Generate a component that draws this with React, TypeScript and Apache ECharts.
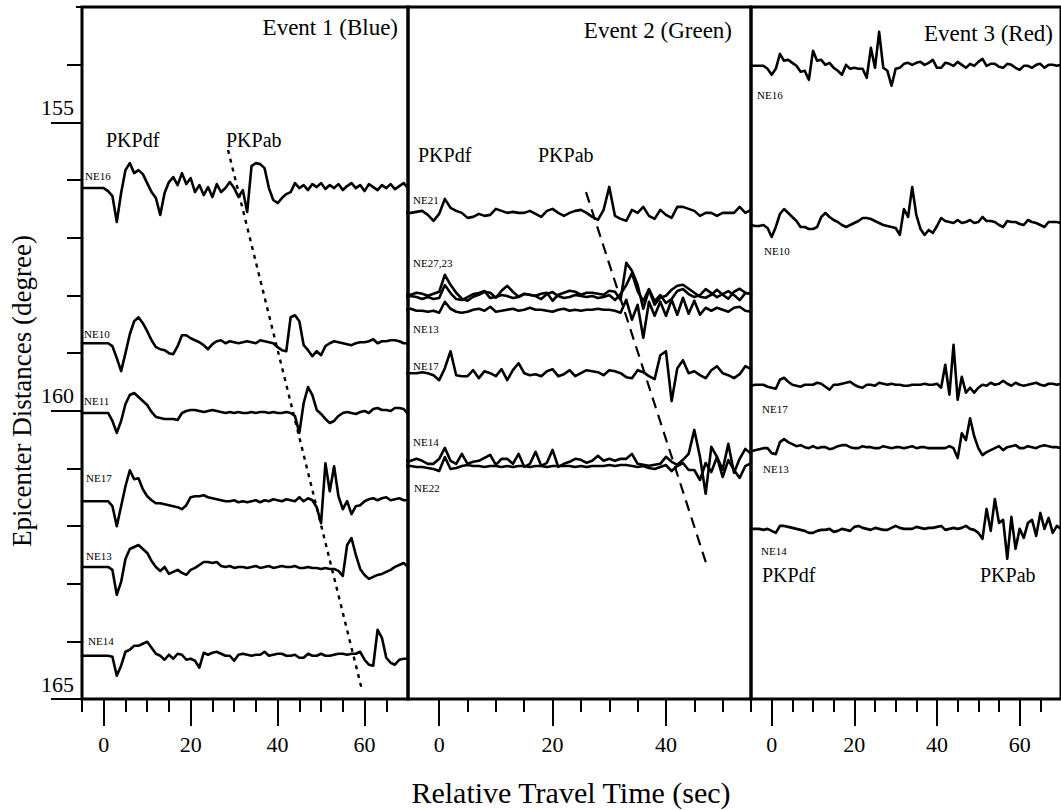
import React, { useEffect, useRef } from "react";
import * as echarts from "echarts";

const FONT = "'Liberation Serif', 'Times New Roman', serif";

// ---- sampling: 1-second samples starting at these times (sec) ----
const P1_T0 = -5;
const P2_T0 = -6;
const P3_T0 = -5;

// amplitude unit -> degrees of epicentral distance on the plot
const AMP_SCALE = 0.0173;

// ---- axes ----
const Y_MIN = 153;
const Y_MAX = 165;
const Y_MAJOR = [155, 160, 165];
const Y_MINOR = [154, 156, 157, 158, 159, 161, 162, 163, 164];
const Y_TOP = [153];
const X_MAJOR_13 = [0, 20, 40, 60];
const X_MAJOR_2 = [0, 20, 40];
const X_MINOR_1 = [-5, 0, 5, 10, 15, 20, 25, 30, 35, 40, 45, 50, 55, 60, 65];
const X_MINOR_2 = [0, 5, 10, 15, 20, 25, 30, 35, 40, 45, 50, 55];
const X_MINOR_3 = [-5, 0, 5, 10, 15, 20, 25, 30, 35, 40, 45, 50, 55, 60, 65];

// ---- Event 1 (Blue) ----
const P1_STATIONS = ["NE16", "NE10", "NE11", "NE17", "NE13", "NE14"];
const P1_DISTANCES = [156.14, 158.83, 160.04, 161.57, 162.71, 164.25];
const P1_NE16 = [
  0, 0, 0, 0, 0, 0,
  -3, -8, -34, -5, 18, 25, 15, 18, 14, 5,
  -4, -10, -27, -5, 6, 11, 3, 15, 4, 10,
  -4, 3, -7, 1, -9, 4, -4, 0, 6, 0,
  -9, -2, -24, 22, 25, 24, 20, 0, -12, -15,
  -10, -6, -4, 5, 0, 3, -2, 4, 1, 5,
  -1, 3, 0, 4, -2, 2, 5, 0, 3, -3,
  4, 1, -2, 3, 0, 4, -1, 2, 5, 0,
];
const P1_NE10 = [
  0, 0, 0, 0, 0, 0, 0,
  -3, -15, -28, -10, 9, 22, 26, 20, 12, 3,
  -4, -6, -7, -10, -11, -3, 8, 8, 5, 3,
  1, -2, -6, -1, 2, 3, 0, 2, 1, 0,
  1, 2, 1, 0, 3, 2, 1, 0, -4, -7,
  -8, 26, 28, 22, -2, -7, -13, -8, -12, -3,
  0, 2, 1, 0, -1, -2, 0, 1, 1, 2,
  4, 0, 2, 2, 3, 3, 2, 0, 0,
];
const P1_NE11 = [
  0, 0, 0, 0, 0, 0, 0,
  -8, -20, -8, 9, 18, 20, 16, 12, 8, 1,
  -4, -5, -6, -6, -6, -7, 0, 2, 3, 3,
  2, 1, 2, 3, 2, 1, 0, 1, 0, 1,
  0, 0, 1, 0, 1, 1, 0, 1, 0, 0,
  1, 0, -3, -20, 10, 26, 18, 3, -1, -6,
  -10, -8, -3, 0, 1, 0, -1, 1, 2, 0,
  4, 5, 3, 3, 2, 5, 5, 4, -1,
];
const P1_NE17 = [
  0, 0, 0, 0, 0, 0, 0,
  -5, -25, -5, 15, 31, 22, 23, 12, 5, 1,
  -2, -2, -3, -4, -5, -6, -8, -4, 4, 5,
  5, 6, 4, 3, 2, 1, 0, 0, 1, -1,
  0, -1, 0, 1, -1, 1, 0, 2, 1, 0,
  2, 1, 0, 4, 0, 3, 1, -6, -22, 38,
  10, 35, 5, -8, 0, -13, -5, -4, 0, 2,
  3, 1, 3, 4, 1, 2, 3, 1, 1,
];
const P1_NE13 = [
  0, 0, 0, 0, 0, 0, 0,
  -3, -28, -15, 8, 18, 20, 22, 18, 14, 6,
  0, -4, 0, -7, -5, -3, -6, -8, -3, -1,
  2, 5, 5, 4, 5, 1, 0, 1, -1, 0,
  0, -1, 0, 1, -1, 0, 1, -1, 0, 1,
  0, 0, 1, -1, -1, 0, -1, -1, -2, -1,
  -2, -2, -4, -9, 22, 29, 12, -2, -8, -12,
  -10, -8, -7, -5, -3, 0, 2, 4, 0,
];
const P1_NE14 = [
  0, 0, 0, 0, 0, 0, 0,
  -1, -20, -10, 4, 6, 10, 10, 12, 14, 8,
  2, 0, -4, 1, -3, 2, 1, -4, -3, -5,
  -12, 3, 1, 3, 4, 2, 0, 0, -5, 1,
  2, 1, 0, 1, 1, 4, 0, 1, 2, 2,
  0, 0, 1, -2, -2, 2, 0, 0, 2, 0,
  0, 1, 2, 2, 1, 2, 2, 4, -4, -9,
  -10, 26, 18, -2, -7, -9, -4, -3, -3,
];
const P1_TRACES = [P1_NE16, P1_NE10, P1_NE11, P1_NE17, P1_NE13, P1_NE14];
const P1_MOVEOUT = [
  [28.6, 155.48],
  [59.4, 164.84],
];

// ---- Event 2 (Green) ----
const P2_STATIONS = ["NE21", "NE27", "NE23", "NE13", "NE17", "NE14", "NE22"];
const P2_DISTANCES = [156.57, 157.99, 158.03, 158.25, 159.35, 160.87, 160.96];
const P2_NE21 = [
  0, 0, 1, 2, -2, -8,
  -1, 14, 5, 2, 0, -5, -4, -1, -3, -2,
  4, 2, 0, 1, 0, 0, 2, -1, -4, 2,
  4, 0, -3, 0, 2, 3, 0, -4, -7, 3,
  26, -3, -6, -8, 3, 0, 6, -3, -6, 3,
  -2, -5, 6, 6, 4, 2, -3, 0, 0, -3,
  0, 0, 0, 6, 0, 3,
];
const P2_NE27 = [
  0, 0, 2, 1, -1, 1,
  3, 20, 10, 2, -4, -6, -2, 0, 3, 2,
  -3, 4, 9, 3, -2, 1, 0, -1, 1, 2,
  -6, 0, 2, 4, 3, 0, 2, 2, 1, 0,
  4, 3, -5, 32, 24, 10, -14, 5, -10, -3,
  -1, 5, 9, 10, 6, 2, -2, -3, 0, 5,
  0, -4, 3, 6, 2, 1,
];
const P2_NE23 = [
  0, 1, 0, -2, 0, -2,
  -1, 12, 4, -2, -3, 0, 3, 4, 6, -1,
  0, 2, 1, -1, 0, 3, 2, 1, -2, 3,
  5, 1, -1, 0, 2, 1, 0, 1, -1, 0,
  2, -3, 3, 12, 24, 6, -4, 8, -4, 2,
  -6, -2, 6, 8, 3, 0, 2, 8, 4, 0,
  3, 6, 2, -3, 4, 3,
];
const P2_NE13 = [
  0, 1, -1, -1, -2, -1,
  -3, 8, 1, -2, -3, -2, 0, 1, -1, 3,
  -2, -1, 0, 1, -1, 0, 2, 0, 0, -1,
  -2, 0, 1, -1, 0, -1, 0, 0, 1, 0,
  0, -1, -3, 10, -10, 5, -28, 8, -6, 8,
  -6, 10, -5, 12, -4, 9, -5, 2, -1, 2,
  0, -2, 2, 3, -1, -2,
];
const P2_NE17 = [
  0, 0, 0, 1, 0, -2,
  -7, 5, 22, -2, -3, -3, 3, -5, 2, 0,
  -3, 4, -7, 3, 10, 0, -2, -1, -3, 2,
  4, -3, -1, 3, -3, 0, 3, 2, 1, -2,
  3, 2, 0, -4, -5, 3, 1, -3, -6, 18,
  22, -28, 5, 13, 0, 2, -2, -5, 3, 7,
  0, -2, -5, -1, 7, 4,
];
const P2_NE14 = [
  0, 0, 2, 0, -3, -3,
  2, 13, 0, -3, 7, -3, -1, 0, 3, 6,
  -4, 2, 2, -3, 7, -6, -3, 9, -5, -2,
  11, -6, -3, -1, 2, 1, -2, 0, 5, 0,
  2, 0, 2, 2, 7, -3, -4, -5, -4, -3,
  4, -1, -4, 1, 7, 31, 4, -33, 14, 4,
  -9, 17, -12, 2, 12, 7,
];
const P2_NE22 = [
  0, 0, -1, -1, -2, -3,
  -5, 9, -3, -2, 0, 1, 0, 0, -1, 0,
  0, -1, 0, -1, 0, 0, -1, 0, 0, -1,
  0, 0, 0, 0, -1, 0, -1, 0, 0, 0,
  1, 0, 1, 1, 0, -1, 0, -2, -3, -1,
  1, -5, 0, 3, -4, -4, -14, 3, -6, 9,
  -11, 6, -4, -12, 0, 3,
];
const P2_TRACES = [P2_NE21, P2_NE27, P2_NE23, P2_NE13, P2_NE17, P2_NE14, P2_NE22];
const P2_MOVEOUT = [
  [25.9, 156.21],
  [47.2, 162.68],
];

// ---- Event 3 (Red) ----
const P3_STATIONS = ["NE16", "NE10", "NE17", "NE13", "NE14"];
const P3_DISTANCES = [154.02, 156.78, 159.55, 160.65, 162.05];
const P3_NE16 = [
  0, 0, 0, 0, -3, -9,
  -3, 12, 5, 6, 3, 0, -6, -5, -14, 15,
  5, 6, 1, 3, -2, -5, -9, 1, -3, -2,
  -3, -3, -12, 18, -2, 34, -2, -5, -20, -3,
  -2, 2, 3, 1, 3, 4, 1, 3, 6, -2,
  -2, 3, 2, 0, 4, 1, -2, 2, 0, 4,
  7, 0, 2, 2, -1, -2, 2, 1, -2, -4,
  0, 0, -2, 1, 2, -2, 1, 1, 0, 1,
];
const P3_NE10 = [
  0, -1, -1, 0, -3, -12,
  -2, 11, 16, 12, 8, 4, -2, -2, -4, -4,
  -2, 8, 12, 8, 5, 3, 0, -2, 0, 2,
  4, 7, 7, 6, 4, 2, 0, -1, -2, -3,
  -10, 16, 8, 38, 10, -4, -10, -5, -8, -1,
  7, 4, 3, 2, 5, 2, 3, 5, 2, 3,
  8, 4, 4, 3, 0, -2, 4, 3, 3, 1,
  0, 5, 3, 2, 0, -2, 3, 3, 3, 2,
];
const P3_NE17 = [
  -1, 0, 0, 0, -2, -3,
  -4, 5, 7, 3, 0, -1, -2, 0, 0, 0,
  2, 1, -2, -5, 0, 0, 1, 2, 3, 0,
  -2, -3, 0, 0, -1, 2, 1, 0, 1, 0,
  0, -1, -1, 0, 0, 0, 1, 0, 0, 1,
  -3, 20, -10, 40, -15, 8, -8, -3, -8, -3,
  0, -1, 2, 0, 1, 4, 1, -1, 2, 0,
  -1, 0, 1, 2, 0, -1, 1, 1, 0, 1,
];
const P3_NE13 = [
  -3, -2, -1, 0, 0, -5,
  -6, 6, 9, 6, 4, 2, 3, 1, 0, 2,
  0, 1, 1, -1, 0, 2, 3, 3, 1, 0,
  0, 2, 1, 1, 0, 0, 2, 1, 0, 1,
  1, 0, 1, 2, 0, 1, 1, 0, 0, 0,
  0, 0, 2, 0, -10, 15, 8, 30, 12, 0,
  -7, -4, -2, 0, 2, -2, 1, 2, 3, 0,
  0, 2, 1, 0, 2, 3, 2, 1, 1, 0,
];
const P3_NE14 = [
  0, 0, 0, -1, 0, -2,
  -4, 3, 3, 2, 1, 0, -1, -2, -4, -4,
  -2, -1, -1, 0, -3, -2, 0, -1, -2, 2,
  3, 1, 0, -1, 1, 0, -1, -1, 1, 3,
  1, 0, 0, 0, 2, 1, 0, 1, 1, 2,
  3, -1, 0, 1, 0, 1, 3, 0, -1, -4,
  -10, 20, -2, 30, 6, 9, -30, 12, -20, 0,
  -9, 6, 9, -7, 16, 0, 11, -4, 3, 0,
];
const P3_TRACES = [P3_NE16, P3_NE10, P3_NE17, P3_NE13, P3_NE14];

function traceData(t0: number, amps: number[], dist: number) {
  return amps.map((a, i) => [t0 + i, +(dist - a * AMP_SCALE).toFixed(4)]);
}

const TRACE_STYLE = { color: "#000", width: 2.6, join: "round", cap: "round" };

function traceSeries(
  event: string,
  stations: string[],
  dists: number[],
  traces: number[][],
  t0: number,
  xAxisIndex: number,
  yAxisIndex: number
) {
  return traces.map((amps, k) => ({
    name: `${event} ${stations[k]}`,
    type: "line",
    xAxisIndex,
    yAxisIndex,
    data: traceData(t0, amps, dists[k]),
    showSymbol: false,
    symbol: "none",
    silent: true,
    lineStyle: TRACE_STYLE,
    z: 3,
  }));
}

const NO_LINE = { show: false, onZero: false };

function xAxes(gridIndex: number, min: number, max: number, minor: number[], major: number[]) {
  const tickStyle = { color: "#000", width: 2 };
  return [
    {
      type: "value",
      gridIndex,
      min,
      max,
      position: "bottom",
      axisLine: NO_LINE,
      splitLine: { show: false },
      axisTick: { show: true, customValues: minor, length: 13, lineStyle: tickStyle },
      axisLabel: { show: false },
    },
    {
      type: "value",
      gridIndex,
      min,
      max,
      position: "bottom",
      axisLine: NO_LINE,
      splitLine: { show: false },
      axisTick: { show: true, customValues: major, length: 27, lineStyle: tickStyle },
      axisLabel: {
        show: true,
        customValues: major,
        margin: 34,
        fontSize: 22,
        fontFamily: FONT,
        color: "#000",
      },
    },
  ];
}

function hiddenY(gridIndex: number) {
  return {
    type: "value",
    gridIndex,
    min: Y_MIN,
    max: Y_MAX,
    inverse: true,
    show: false,
    axisLine: NO_LINE,
    splitLine: { show: false },
  };
}

function text(
  t: string,
  x: number,
  y: number,
  size: number,
  align: string = "left",
  rotation: number = 0
) {
  return {
    type: "text",
    x,
    y,
    rotation,
    silent: true,
    style: {
      text: t,
      fontSize: size,
      fontFamily: FONT,
      fill: "#000",
      align,
      verticalAlign: "middle",
    },
  };
}

export default function App() {
  const ref = useRef<HTMLDivElement>(null);

  useEffect(() => {
    if (!ref.current) return;
    const chart = echarts.init(ref.current, null, { renderer: "svg" });
    const tickStyle = { color: "#000", width: 2 };
    const gridBase = {
      top: 7,
      height: 692,
      show: true,
      borderColor: "#000",
      borderWidth: 3,
      backgroundColor: "transparent",
    };

    const stationLabel = 11;
    const graphics = [
      text("Epicenter Distances (degree)", 22, 391, 27, "center", Math.PI / 2),
      text("Relative Travel Time (sec)", 571, 792, 30, "center"),
      text("Event 1 (Blue)", 398, 27, 23, "right"),
      text("Event 2 (Green)", 732, 30, 23, "right"),
      text("Event 3 (Red)", 1053, 33, 23, "right"),
      text("PKPdf", 106, 140, 20),
      text("PKPab", 226, 140, 20),
      text("PKPdf", 418, 155, 20),
      text("PKPab", 538, 155, 20),
      text("PKPdf", 762, 575, 20),
      text("PKPab", 980, 575, 20),
      // station labels, Event 1
      text("NE16", 85, 176, stationLabel),
      text("NE10", 84, 334, stationLabel),
      text("NE11", 84, 401, stationLabel),
      text("NE17", 86, 478, stationLabel),
      text("NE13", 86, 556, stationLabel),
      text("NE14", 88, 641, stationLabel),
      // Event 2
      text("NE21", 413, 200, stationLabel),
      text("NE27,23", 413, 263, stationLabel),
      text("NE13", 413, 329, stationLabel),
      text("NE17", 413, 366, stationLabel),
      text("NE14", 413, 442, stationLabel),
      text("NE22", 414, 488, stationLabel),
      // Event 3
      text("NE16", 757, 95, stationLabel),
      text("NE10", 764, 251, stationLabel),
      text("NE17", 762, 409, stationLabel),
      text("NE13", 763, 469, stationLabel),
      text("NE14", 761, 551, stationLabel),
    ];

    const option: any = {
      animation: false,
      backgroundColor: "#fff",
      grid: [
        { ...gridBase, left: 82, width: 326 },
        { ...gridBase, left: 408, width: 343 },
        { ...gridBase, left: 751, width: 314.3 },
      ],
      xAxis: [
        ...xAxes(0, -5, 70, X_MINOR_1, X_MAJOR_13),
        ...xAxes(1, -5.5, 55, X_MINOR_2, X_MAJOR_2),
        ...xAxes(2, -5, 70, X_MINOR_3, X_MAJOR_13),
      ],
      yAxis: [
        {
          type: "value",
          gridIndex: 0,
          min: Y_MIN,
          max: Y_MAX,
          inverse: true,
          position: "left",
          axisLine: NO_LINE,
          splitLine: { show: false },
          axisTick: { show: true, customValues: Y_MINOR, length: 15, lineStyle: tickStyle },
          axisLabel: { show: false },
        },
        {
          type: "value",
          gridIndex: 0,
          min: Y_MIN,
          max: Y_MAX,
          inverse: true,
          position: "left",
          axisLine: NO_LINE,
          splitLine: { show: false },
          axisTick: { show: true, customValues: Y_MAJOR, length: 31, lineStyle: tickStyle },
          axisLabel: {
            show: true,
            customValues: Y_MAJOR,
            verticalAlign: "bottom",
            padding: [0, 0, 4, 0],
            margin: 8,
            fontSize: 22,
            fontFamily: FONT,
            color: "#000",
          },
        },
        {
          type: "value",
          gridIndex: 0,
          min: Y_MIN,
          max: Y_MAX,
          inverse: true,
          position: "left",
          axisLine: NO_LINE,
          splitLine: { show: false },
          axisTick: { show: true, customValues: Y_TOP, length: 6, lineStyle: tickStyle },
          axisLabel: { show: false },
        },
        hiddenY(1),
        hiddenY(2),
      ],
      graphic: { elements: graphics },
      series: [
        ...traceSeries("Event 1", P1_STATIONS, P1_DISTANCES, P1_TRACES, P1_T0, 0, 0),
        {
          name: "Event 1 PKPab moveout",
          type: "line",
          xAxisIndex: 0,
          yAxisIndex: 0,
          data: P1_MOVEOUT,
          showSymbol: false,
          symbol: "none",
          silent: true,
          lineStyle: { color: "#000", width: 2.4, type: [4, 5] },
          z: 4,
        },
        ...traceSeries("Event 2", P2_STATIONS, P2_DISTANCES, P2_TRACES, P2_T0, 2, 3),
        {
          name: "Event 2 PKPab moveout",
          type: "line",
          xAxisIndex: 2,
          yAxisIndex: 3,
          data: P2_MOVEOUT,
          showSymbol: false,
          symbol: "none",
          silent: true,
          lineStyle: { color: "#000", width: 2.2, type: [11, 7] },
          z: 4,
        },
        ...traceSeries("Event 3", P3_STATIONS, P3_DISTANCES, P3_TRACES, P3_T0, 4, 4),
      ],
    };

    chart.setOption(option);
    return () => {
      chart.dispose();
    };
  }, []);

  return (
    <div
      ref={ref}
      style={{ position: "absolute", left: 0, top: 0, width: 1061, height: 810, background: "#fff" }}
    />
  );
}
